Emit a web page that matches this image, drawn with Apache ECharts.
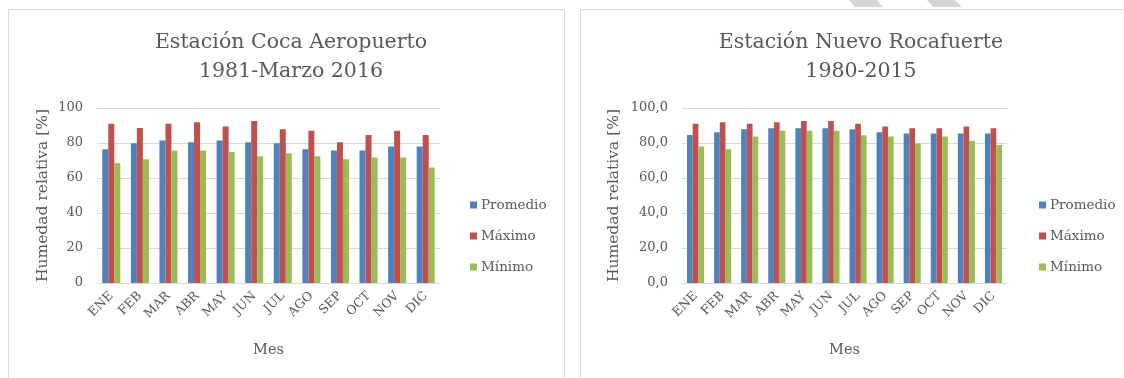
<!DOCTYPE html>
<html>
<head>
<meta charset="utf-8">
<script src="https://cdn.jsdelivr.net/npm/echarts@6/dist/echarts.min.js"></script>
<style>
  html, body { margin: 0; padding: 0; background: #ffffff; }
  #chart { width: 1124px; height: 378px; }
</style>
</head>
<body>
<div id="chart"></div>
<script>
// Meses
const months = ['ENE', 'FEB', 'MAR', 'ABR', 'MAY', 'JUN', 'JUL', 'AGO', 'SEP', 'OCT', 'NOV', 'DIC'];
const seriesNames = ['Promedio', 'Máximo', 'Mínimo'];

// Estación Coca Aeropuerto, 1981-Marzo 2016 — humedad relativa [%]
const cocaPromedio = [76.5, 79.8, 81.4, 80.5, 81.4, 80.5, 79.8, 76.5, 75.7, 75.7, 78.0, 78.0];
const cocaMaximo   = [91.0, 88.6, 91.0, 91.9, 89.5, 92.6, 87.9, 87.0, 80.5, 84.6, 87.0, 84.6];
const cocaMinimo   = [68.5, 70.7, 75.7, 75.7, 74.8, 72.4, 74.1, 72.4, 70.7, 71.7, 71.7, 66.0];

// Estación Nuevo Rocafuerte, 1980-2015 — humedad relativa [%]
const nrPromedio = [84.6, 86.2, 87.8, 88.5, 88.5, 88.5, 87.8, 86.2, 85.4, 85.4, 85.4, 85.4];
const nrMaximo   = [91.0, 91.8, 91.0, 91.8, 92.6, 92.6, 91.0, 89.5, 88.5, 88.5, 89.5, 88.5];
const nrMinimo   = [78.0, 76.5, 83.7, 87.0, 87.0, 87.0, 84.5, 83.7, 79.7, 83.7, 81.3, 78.9];

// Ejes Y
const cocaTicks = { min: 0, max: 100, interval: 20 };
const nrTicks = { min: 0, max: 100, interval: 20 };

const colors = ['#4F81BD', '#C0504D', '#9BBB59'];
const textColor = '#595959';
const gridColor = '#D9D9D9';
const serif = '"DejaVu Serif", "Liberation Serif", serif';

function makeX(gridIndex) {
  return {
    type: 'category', gridIndex, data: months,
    name: 'Mes', nameLocation: 'middle', nameGap: 60,
    nameTextStyle: { color: textColor, fontFamily: serif, fontSize: 14.5 },
    axisLine: { lineStyle: { color: gridColor, width: 1 } },
    axisTick: { show: false },
    axisLabel: { rotate: 45, color: textColor, fontFamily: serif, fontSize: 12.5, margin: 11, interval: 0 }
  };
}
function makeY(gridIndex, ticks, decimals) {
  return {
    type: 'value', gridIndex, min: ticks.min, max: ticks.max, interval: ticks.interval,
    name: 'Humedad relativa [%]', nameLocation: 'middle', nameGap: decimals ? 60 : 46,
    nameTextStyle: { color: textColor, fontFamily: serif, fontSize: 15.5 },
    axisLine: { show: false }, axisTick: { show: false },
    splitLine: { lineStyle: { color: gridColor, width: 1 } },
    axisLabel: {
      color: textColor, fontFamily: serif, fontSize: 13, margin: 14,
      formatter: v => decimals ? v.toFixed(decimals).replace('.', ',') : String(v)
    }
  };
}
function makeBar(name, data, idx, axisIdx) {
  return {
    type: 'bar', name, data, xAxisIndex: axisIdx, yAxisIndex: axisIdx,
    barGap: '0%', barCategoryGap: '37%',
    itemStyle: { color: colors[idx] }, silent: true, animation: false
  };
}

const chart = echarts.init(document.getElementById('chart'), null, { renderer: 'canvas' });
chart.setOption({
  animation: false,
  color: colors,
  graphic: [
    // marcos de los paneles
    { type: 'rect', shape: { x: 8.5, y: 9.5, width: 556, height: 380 }, style: { fill: 'none', stroke: '#D9D9D9', lineWidth: 1 }, silent: true },
    { type: 'rect', shape: { x: 580.5, y: 9.5, width: 560, height: 380 }, style: { fill: 'none', stroke: '#D9D9D9', lineWidth: 1 }, silent: true },
    // franjas decorativas superiores
    { type: 'polygon', shape: { points: [[847, -2], [875, -2], [883, 7], [855, 7]] }, style: { fill: '#D6D6D6' }, silent: true },
    { type: 'polygon', shape: { points: [[925, -2], [953, -2], [962, 7], [933, 7]] }, style: { fill: '#D6D6D6' }, silent: true }
  ],
  title: [
    { text: 'Estación Coca Aeropuerto\n1981-Marzo 2016', left: 286, top: 23, textAlign: 'center',
      textStyle: { color: textColor, fontFamily: serif, fontSize: 20.5, fontWeight: 'normal', lineHeight: 29 } },
    { text: 'Estación Nuevo Rocafuerte\n1980-2015', left: 856, top: 23, textAlign: 'center',
      textStyle: { color: textColor, fontFamily: serif, fontSize: 20.5, fontWeight: 'normal', lineHeight: 29 } }
  ],
  legend: [
    { data: seriesNames, orient: 'vertical', left: 465, top: 193, itemWidth: 7, itemHeight: 7, itemGap: 17,
      icon: 'rect', textStyle: { color: textColor, fontFamily: serif, fontSize: 13.5, padding: [0, 0, 0, -1] }, selectedMode: false },
    { data: seriesNames, orient: 'vertical', left: 1034, top: 193, itemWidth: 7, itemHeight: 7, itemGap: 17,
      icon: 'rect', textStyle: { color: textColor, fontFamily: serif, fontSize: 13.5, padding: [0, 0, 0, -1] }, selectedMode: false }
  ],
  grid: [
    { left: 97, top: 108, width: 343, height: 175 },
    { left: 682, top: 108, width: 325, height: 175 }
  ],
  xAxis: [makeX(0), makeX(1)],
  yAxis: [makeY(0, cocaTicks, 0), makeY(1, nrTicks, 1)],
  series: [
    makeBar(seriesNames[0], cocaPromedio, 0, 0),
    makeBar(seriesNames[1], cocaMaximo, 1, 0),
    makeBar(seriesNames[2], cocaMinimo, 2, 0),
    makeBar(seriesNames[0], nrPromedio, 0, 1),
    makeBar(seriesNames[1], nrMaximo, 1, 1),
    makeBar(seriesNames[2], nrMinimo, 2, 1)
  ]
});
</script>
</body>
</html>
